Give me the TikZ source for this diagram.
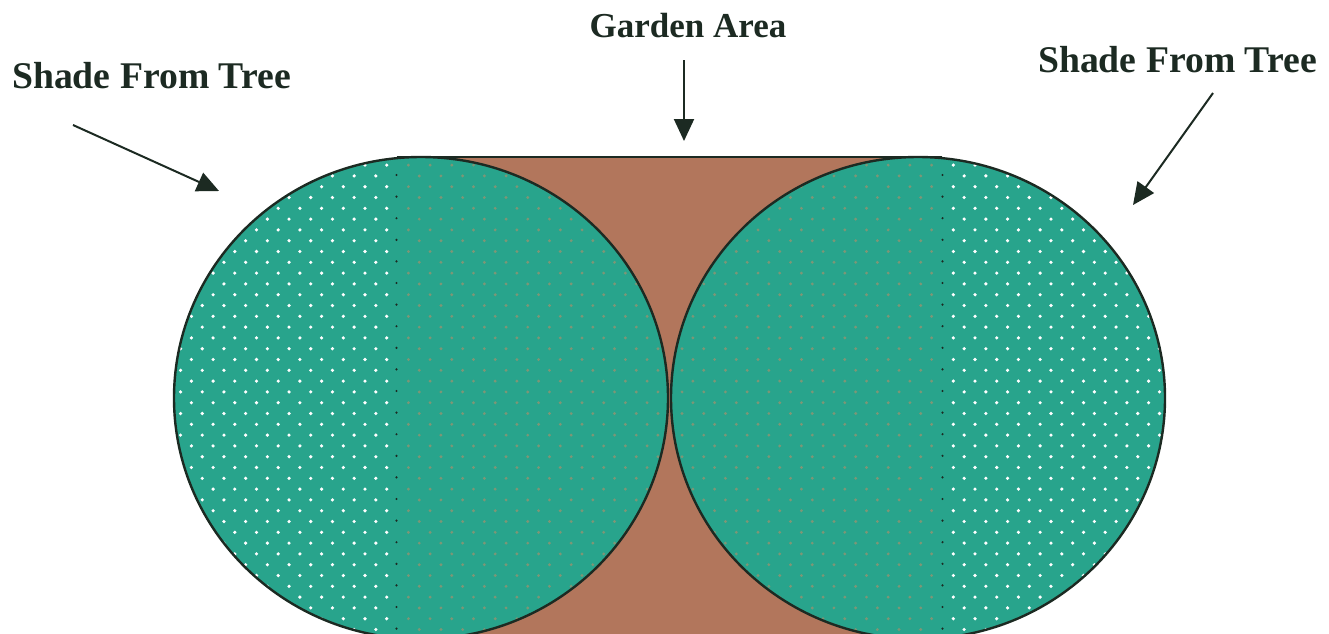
\documentclass[tikz,border=0pt]{standalone}
\usepackage{fontspec}
\setmainfont{Liberation Serif}
\usetikzlibrary{arrows.meta}
\definecolor{leaf}{RGB}{40,164,140}
\definecolor{soil}{RGB}{178,118,92}
\definecolor{ink}{RGB}{28,42,34}
\definecolor{faint}{RGB}{125,150,118}
\tikzset{
  label/.style={font=\bfseries\fontsize{37.7}{40}\selectfont, text=ink, inner sep=0pt},
  glabel/.style={font=\bfseries\fontsize{35}{40}\selectfont, text=ink, inner sep=0pt},
  pointer/.style={draw=ink, line width=2pt, -{Triangle[length=22pt,width=20pt]}},
  outline/.style={draw=ink, line width=2.4pt},
  wdot/.style={fill=white},
  fdot/.style={fill=faint},
}
\begin{document}
\begin{tikzpicture}[x=1pt,y=-1pt,line join=round]
\useasboundingbox (0,0) rectangle (1329,633);
\begin{scope}
  \clip (0,0) rectangle (1329,633);
  % garden soil
  \fill[soil] (397,157) rectangle (942,700);
  % tree shade
  \fill[leaf] (421,398) ellipse [x radius=247, y radius=241];
  \fill[leaf] (918,398) ellipse [x radius=247, y radius=241];
  % left outer dots
  \begin{scope}
    \clip (421,398) ellipse [x radius=247, y radius=241];
    \clip (0,0) rectangle (395,700);
    \foreach \i in {0,...,11} \foreach \j in {-1,...,22} {
      \fill[wdot] ({386.7-21.7*\i},{186.7+21.6*\j}) circle (1.8);
      \fill[wdot] ({375.85-21.7*\i},{197.5+21.6*\j}) circle (1.8);
    }
  \end{scope}
  % left inner faint dots
  \begin{scope}
    \clip (421,398) ellipse [x radius=247, y radius=241];
    \clip (399,0) rectangle (700,700);
    \foreach \i in {0,...,13} \foreach \j in {-1,...,22} {
      \fill[fdot] ({408.4+21.7*\i},{186.7+21.6*\j}) circle (1.6);
      \fill[fdot] ({397.55+21.7*\i},{197.5+21.6*\j}) circle (1.6);
    }
  \end{scope}
  % right outer dots
  \begin{scope}
    \clip (918,398) ellipse [x radius=247, y radius=241];
    \clip (944,0) rectangle (1329,700);
    \foreach \i in {0,...,11} \foreach \j in {-1,...,22} {
      \fill[wdot] ({953.3+21.7*\i},{186.7+21.6*\j}) circle (1.8);
      \fill[wdot] ({964.15+21.7*\i},{197.5+21.6*\j}) circle (1.8);
    }
  \end{scope}
  % right inner faint dots
  \begin{scope}
    \clip (918,398) ellipse [x radius=247, y radius=241];
    \clip (600,0) rectangle (940,700);
    \foreach \i in {0,...,13} \foreach \j in {-1,...,22} {
      \fill[fdot] ({931.6-21.7*\i},{186.7+21.6*\j}) circle (1.6);
      \fill[fdot] ({942.45-21.7*\i},{197.5+21.6*\j}) circle (1.6);
    }
  \end{scope}
  % dark dotted dividers
  \foreach \j in {0,...,21} {
    \begin{scope}
      \clip (421,398) ellipse [x radius=247, y radius=240];
      \fill[ink] (396.5,{175+21.6*\j}) circle (1.2);
    \end{scope}
    \begin{scope}
      \clip (918,398) ellipse [x radius=247, y radius=240];
      \fill[ink] (942.5,{175+21.6*\j}) circle (1.2);
    \end{scope}
  }
  % outlines
  \draw[outline] (421,398) ellipse [x radius=247, y radius=241];
  \draw[outline] (918,398) ellipse [x radius=247, y radius=241];
  \draw[outline] (397,157) -- (942,157);
\end{scope}

% labels
\node[label, anchor=base west] (shadeL) at (12,88) {Shade From Tree};
\node[label, anchor=base west] (shadeR) at (1038,72) {Shade From Tree};
\node[glabel, anchor=base] (garden) at (688,37) {Garden Area};

% pointers
\coordinate (aLs) at (73,125);
\coordinate (aLe) at (219,191);
\coordinate (aGs) at (684,60);
\coordinate (aGe) at (684,141);
\coordinate (aRs) at (1213,93);
\coordinate (aRe) at (1133,205);
\draw[pointer] (aLs) -- (aLe);
\draw[pointer] (aGs) -- (aGe);
\draw[pointer] (aRs) -- (aRe);
\end{tikzpicture}
\end{document}
